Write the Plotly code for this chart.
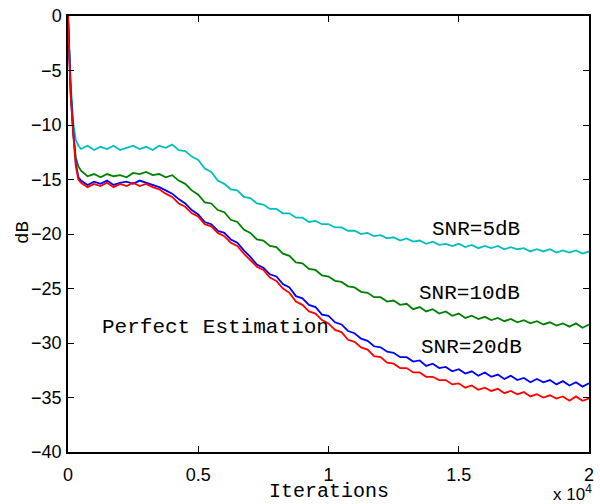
import plotly.graph_objects as go

# Iteration grid (x values)
iterations = [0, 100, 200, 300, 400] + list(range(500, 20001, 250))

snr5_db = [
    0, -6.0, -9.8, -11.4, -11.9,
    -12.2, -11.9, -12.3, -12.0, -12.2, -11.9, -12.3, -12.1,
    -11.9, -12.2, -12.0, -12.3, -11.9, -12.1, -11.8, -12.3,
    -12.4, -12.9, -13.2, -14.0, -14.3, -15.1, -15.4, -15.9,
    -16.0, -16.6, -16.7, -17.2, -17.3, -17.7, -17.7, -18.1,
    -18.1, -18.5, -18.5, -18.9, -18.8, -19.1, -19.1, -19.4,
    -19.4, -19.7, -19.7, -20.0, -19.9, -20.2, -20.1, -20.4,
    -20.3, -20.6, -20.4, -20.7, -20.6, -20.9, -20.7, -21.0,
    -20.9, -21.1, -20.9, -21.2, -21.0, -21.3, -21.1, -21.3,
    -21.1, -21.4, -21.2, -21.4, -21.3, -21.6, -21.4, -21.6,
    -21.4, -21.7, -21.5, -21.7, -21.5, -21.8, -21.6,
]

snr10_db = [
    0, -6.5, -10.8, -13.0, -13.8,
    -14.2, -14.7, -14.5, -14.8, -14.5, -14.7, -14.6, -14.8,
    -14.4, -14.5, -14.3, -14.6, -14.5, -14.8, -14.6, -15.1,
    -15.4, -16.0, -16.4, -17.1, -17.2, -17.8, -18.0, -18.7,
    -18.9, -19.6, -19.9, -20.5, -20.6, -21.1, -21.2, -21.8,
    -22.0, -22.6, -22.7, -23.2, -23.3, -23.8, -23.9, -24.3,
    -24.4, -24.8, -24.9, -25.3, -25.4, -25.8, -25.8, -26.2,
    -26.1, -26.5, -26.4, -26.9, -26.7, -27.1, -26.9, -27.3,
    -27.1, -27.5, -27.3, -27.7, -27.5, -27.8, -27.6, -27.9,
    -27.7, -28.0, -27.8, -28.1, -27.9, -28.2, -28.0, -28.3,
    -28.1, -28.4, -28.2, -28.5, -28.2, -28.6, -28.3,
]

snr20_db = [
    0, -7.0, -10.5, -13.5, -14.8,
    -15.1, -15.5, -15.2, -15.4, -15.1, -15.5, -15.3, -15.2,
    -15.4, -15.1, -15.3, -15.5, -15.7, -16.0, -16.3, -16.8,
    -17.2, -17.8, -18.2, -18.9, -19.1, -19.7, -19.9, -20.5,
    -20.8, -21.5, -22.1, -22.8, -23.1, -23.7, -23.9, -24.6,
    -24.9, -25.7, -25.9, -26.5, -26.7, -27.4, -27.5, -28.1,
    -28.3, -28.9, -29.1, -29.6, -29.8, -30.3, -30.4, -30.8,
    -30.9, -31.3, -31.3, -31.7, -31.6, -32.1, -31.9, -32.3,
    -32.2, -32.6, -32.4, -32.8, -32.6, -33.0, -32.7, -33.1,
    -32.9, -33.3, -33.0, -33.4, -33.2, -33.6, -33.3, -33.6,
    -33.4, -33.8, -33.5, -33.9, -33.6, -34.0, -33.7,
]

perfect_db = [
    0, -7.2, -10.8, -13.8, -15.0,
    -15.3, -15.7, -15.4, -15.6, -15.3, -15.7, -15.4, -15.6,
    -15.3, -15.6, -15.4, -15.7, -15.9, -16.3, -16.6, -17.2,
    -17.5, -18.1, -18.4, -19.1, -19.3, -19.9, -20.2, -20.8,
    -21.1, -21.8, -22.4, -23.0, -23.3, -24.0, -24.3, -25.0,
    -25.4, -26.2, -26.5, -27.1, -27.3, -27.9, -28.2, -28.8,
    -29.0, -29.7, -29.9, -30.4, -30.6, -31.2, -31.3, -31.8,
    -31.9, -32.3, -32.3, -32.7, -32.7, -33.1, -33.1, -33.4,
    -33.4, -33.8, -33.7, -34.1, -33.9, -34.3, -34.1, -34.4,
    -34.2, -34.6, -34.4, -34.7, -34.5, -34.9, -34.7, -35.0,
    -34.8, -35.1, -34.9, -35.3, -34.9, -35.3, -35.1,
]

series_names = ["SNR=5dB", "SNR=10dB", "SNR=20dB", "Perfect Estimation"]
series_values = [snr5_db, snr10_db, snr20_db, perfect_db]
series_colors = ["#00BFBF", "#008000", "#0000FF", "#FF0000"]

x_tick_vals = [0, 5000, 10000, 15000, 20000]
x_tick_text = ["0", "0.5", "1", "1.5", "2"]
y_tick_vals = [0, -5, -10, -15, -20, -25, -30, -35, -40]
y_tick_text = ["0", "\u22125", "\u221210", "\u221215", "\u221220", "\u221225", "\u221230", "\u221235", "\u221240"]

fig = go.Figure()
for name, vals, col in zip(series_names, series_values, series_colors):
    fig.add_trace(go.Scatter(x=iterations, y=vals, mode="lines", name=name,
                             line=dict(color=col, width=1.8), showlegend=False))

mono = "Liberation Mono, Courier New, monospace"
sans = "Liberation Sans, Arial, Helvetica, sans-serif"

label_pos = {
    "SNR=5dB": (13880, -19.55),
    "SNR=10dB": (13380, -25.5),
    "SNR=20dB": (13460, -30.45),
    "Perfect Estimation": (1220, -28.6),
}
for txt, (lx, ly) in label_pos.items():
    fig.add_annotation(x=lx, y=ly, text=txt, showarrow=False, xanchor="left",
                       yanchor="middle", font=dict(family=mono, size=21, color="black"))

# axis titles and exponent as positioned annotations
fig.add_annotation(x=0.5, y=0, xref="paper", yref="paper", text="Iterations",
                   showarrow=False, xanchor="center", yanchor="middle", yshift=-39,
                   font=dict(family=mono, size=20, color="black"))
fig.add_annotation(x=0, y=0.5, xref="paper", yref="paper", text="dB", textangle=-90,
                   showarrow=False, xanchor="center", yanchor="middle", xshift=-45, yshift=1,
                   font=dict(family=mono, size=19, color="black"))
fig.add_annotation(x=1, y=0, xref="paper", yref="paper", text="x 10<sup>4</sup>",
                   showarrow=False, xanchor="right", yanchor="middle", yshift=-41, xshift=5,
                   font=dict(family=sans, size=17, color="black"))

axis_common = dict(showline=True, linecolor="black", linewidth=1.5, mirror="allticks",
                   ticks="inside", ticklen=6, tickwidth=1.2, tickcolor="black",
                   showgrid=False, zeroline=False,
                   tickfont=dict(family=sans, size=18, color="black"))

fig.update_xaxes(range=[0, 20000], tickvals=x_tick_vals, ticktext=x_tick_text,
                 ticklabelstandoff=6, **axis_common)
fig.update_yaxes(range=[-40, 0], tickvals=y_tick_vals, ticktext=y_tick_text,
                 ticklabelstandoff=1, **axis_common)

fig.update_layout(width=600, height=504, paper_bgcolor="white", plot_bgcolor="white",
                  margin=dict(l=68, r=6, t=16, b=52))

fig.write_html("out.html", config={"displayModeBar": False},
               post_script="document.body.style.margin='0';document.body.style.overflow='hidden';")
